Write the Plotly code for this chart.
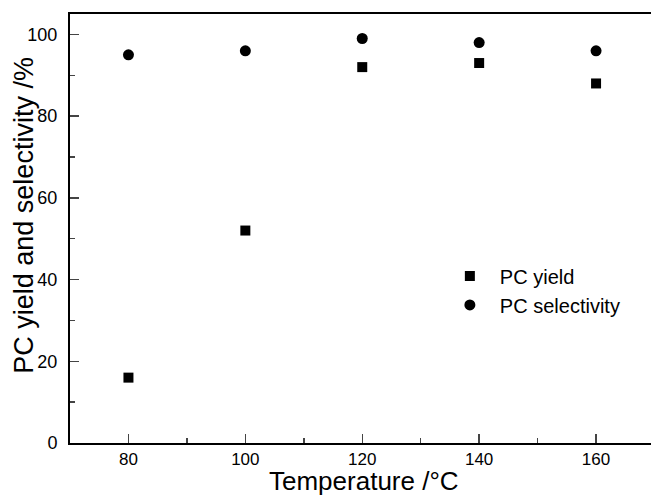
import plotly.graph_objects as go

temperature = [80, 100, 120, 140, 160]
pc_yield = [16, 52, 92, 93, 88]
pc_selectivity = [95, 96, 99, 98, 96]

x_ticks = [80, 100, 120, 140, 160]
y_ticks = [0, 20, 40, 60, 80, 100]

fig = go.Figure()
fig.add_trace(go.Scatter(x=temperature, y=pc_yield, mode="markers", name="PC yield",
                         marker=dict(symbol="square", size=10, color="black")))
fig.add_trace(go.Scatter(x=temperature, y=pc_selectivity, mode="markers", name="PC selectivity",
                         marker=dict(symbol="circle", size=11, color="black")))

font = "Liberation Sans, Arial, sans-serif"
fig.update_layout(
    width=651, height=495, autosize=False,
    margin=dict(l=70, r=0, t=14, b=52),
    plot_bgcolor="white", paper_bgcolor="white",
    font=dict(family=font, color="black"),
    hovermode=False,
    showlegend=True,
    legend=dict(x=0.6366, y=0.435, xanchor="left", yanchor="top", font=dict(size=20),
                bgcolor="rgba(0,0,0,0)", itemwidth=50, tracegroupgap=0),
    xaxis=dict(range=[70, 169.4], tickvals=x_ticks, ticks="inside", ticklen=9,
               tickwidth=1.5, showline=True, linewidth=2, linecolor="black", mirror=True,
               showgrid=False, zeroline=False, tickfont=dict(size=17), automargin=False,
               ticklabelstandoff=0, showspikes=False,
               minor=dict(tickvals=[90, 110, 130, 150], ticks="inside", ticklen=5, tickwidth=1.5)),
    yaxis=dict(range=[0, 105], tickvals=y_ticks, ticks="inside", ticklen=9,
               tickwidth=1.5, showline=True, linewidth=2, linecolor="black", mirror=False,
               showgrid=False, zeroline=False, tickfont=dict(size=18), automargin=False,
               ticklabelstandoff=7, showspikes=False,
               minor=dict(tickvals=[10, 30, 50, 70, 90], ticks="inside", ticklen=5, tickwidth=1.5)),
    annotations=[
        dict(text="Temperature /°C", xref="paper", yref="paper", x=0.506, y=-0.0886,
             xanchor="center", yanchor="middle", showarrow=False, borderpad=0,
             font=dict(size=26)),
        dict(text="PC yield and selectivity /%", xref="paper", yref="paper", x=-0.079, y=0.530,
             xanchor="center", yanchor="middle", textangle=-90, showarrow=False, font=dict(size=27)),
    ],
)
fig.write_html(
    "out.html",
    config={"displayModeBar": False, "staticPlot": True},
    post_script="document.body.style.margin='0';document.documentElement.style.overflow='hidden';document.body.style.overflow='hidden';",
)
